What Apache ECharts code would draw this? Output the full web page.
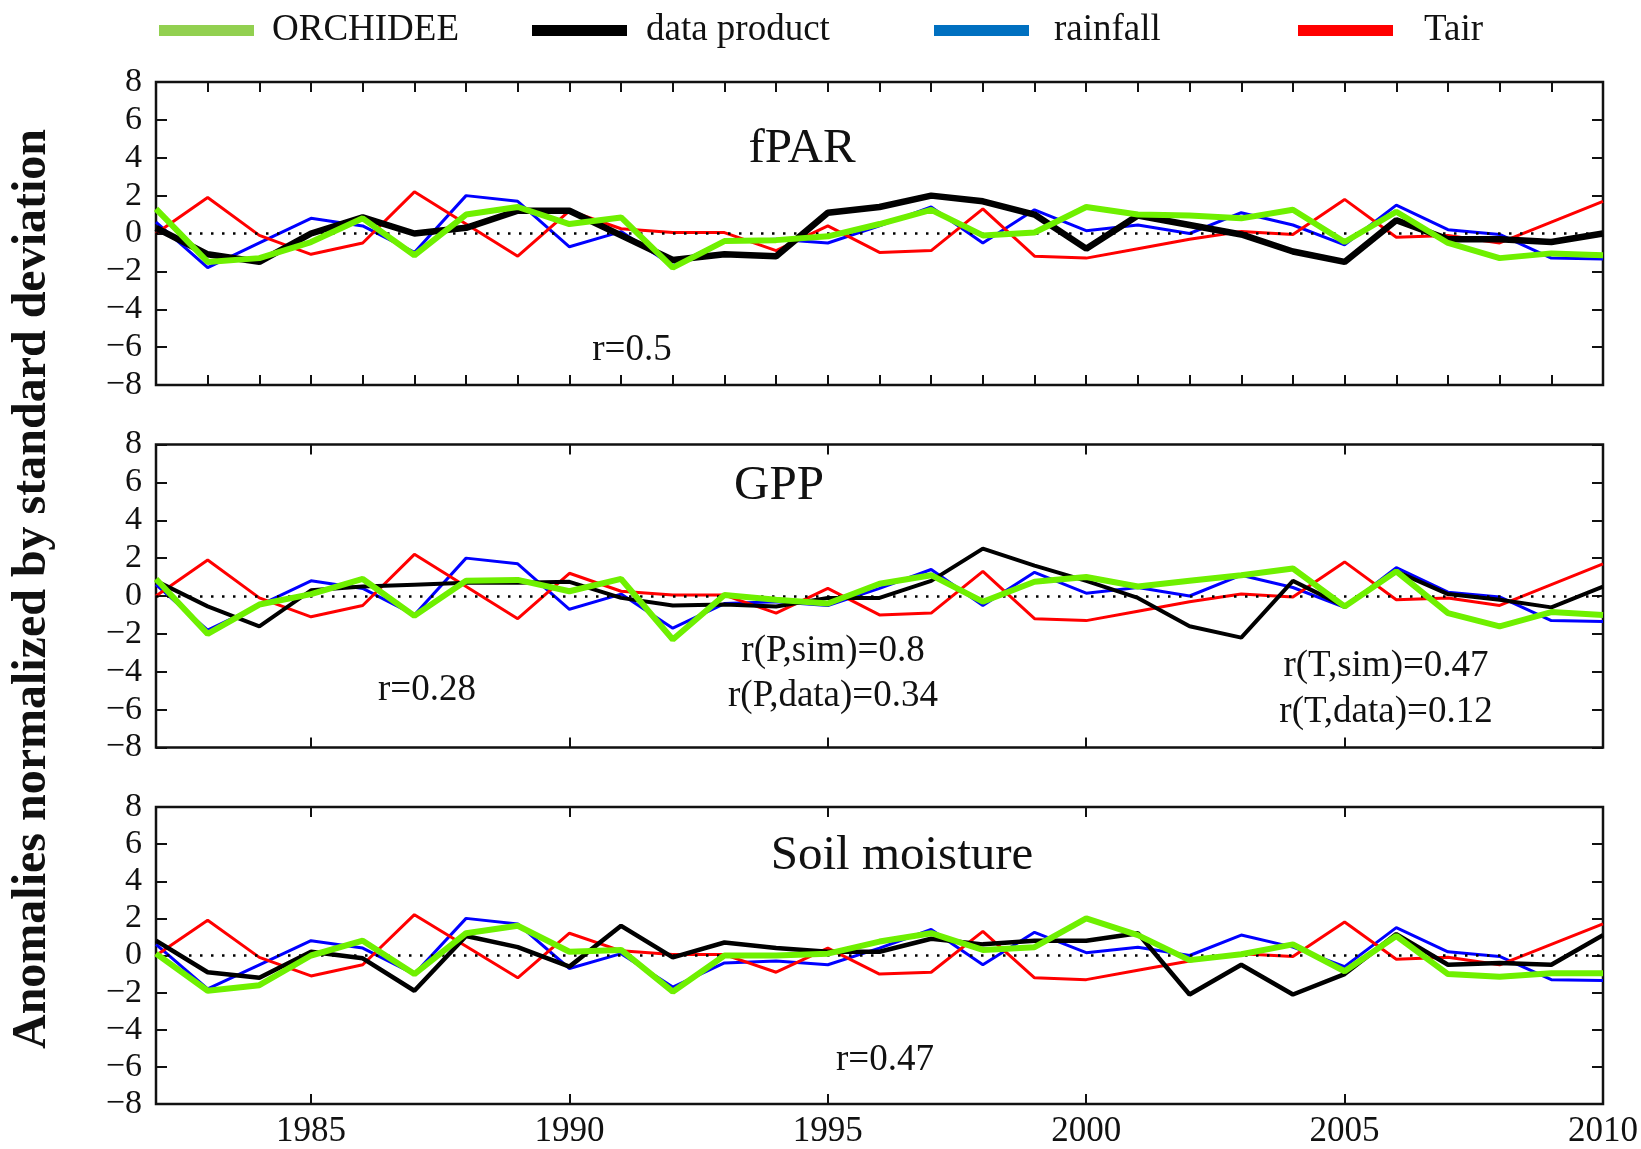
<!DOCTYPE html>
<html>
<head>
<meta charset="utf-8">
<title>Anomalies normalized by standard deviation</title>
<script src="https://cdn.jsdelivr.net/npm/echarts@6/dist/echarts.min.js"></script>
<style>
  html, body { margin: 0; padding: 0; background: #fff; }
  #chart { width: 1641px; height: 1149px; }
</style>
</head>
<body>
<div id="chart"></div>
<script>
// Years on the horizontal axis
const years = [1982, 1983, 1984, 1985, 1986, 1987, 1988, 1989, 1990, 1991,
               1992, 1993, 1994, 1995, 1996, 1997, 1998, 1999, 2000, 2001,
               2002, 2003, 2004, 2005, 2006, 2007, 2008, 2009, 2010];

// Climate drivers (same in every panel)
const rainfall = [0.6, -1.8, -0.5, 0.8, 0.4, -1.0, 2.0, 1.7, -0.7, 0.1,
                  -1.7, -0.4, -0.3, -0.5, 0.4, 1.4, -0.5, 1.25, 0.15, 0.45,
                  0.0, 1.1, 0.45, -0.6, 1.5, 0.2, -0.05, -1.3, -1.35];
const tair = [0.0, 1.9, -0.1, -1.1, -0.5, 2.2, 0.5, -1.2, 1.2, 0.25,
              0.05, 0.05, -0.9, 0.4, -1.0, -0.9, 1.3, -1.2, -1.3, -0.8,
              -0.3, 0.1, -0.05, 1.8, -0.2, -0.1, -0.5, 0.6, 1.7];

// fPAR
const fparData = [0.3, -1.1, -1.5, 0.0, 0.85, 0.0, 0.3, 1.2, 1.2, -0.1,
                  -1.4, -1.1, -1.2, 1.1, 1.4, 2.0, 1.7, 1.0, -0.8, 0.95,
                  0.45, -0.05, -0.95, -1.5, 0.7, -0.3, -0.3, -0.45, 0.0];
const fparSim = [1.3, -1.5, -1.3, -0.45, 0.8, -1.15, 1.0, 1.4, 0.5, 0.85,
                 -1.8, -0.4, -0.35, -0.15, 0.5, 1.25, -0.1, 0.05, 1.4, 1.0,
                 0.95, 0.8, 1.25, -0.45, 1.15, -0.5, -1.3, -1.05, -1.15];

// GPP
const gppData = [0.8, -0.55, -1.6, 0.3, 0.5, 0.6, 0.7, 0.7, 0.75, -0.1,
                 -0.5, -0.45, -0.55, -0.1, -0.1, 0.8, 2.5, 1.6, 0.8, -0.1,
                 -1.6, -2.2, 0.8, -0.55, 1.3, 0.1, -0.2, -0.6, 0.5];
const gppSim = [0.9, -2.0, -0.45, 0.1, 0.9, -1.05, 0.8, 0.85, 0.25, 0.9,
                -2.3, 0.05, -0.2, -0.4, 0.65, 1.1, -0.3, 0.75, 1.0, 0.5,
                0.8, 1.1, 1.45, -0.55, 1.3, -0.9, -1.6, -0.85, -1.0];

// Soil moisture
const smData = [0.8, -0.9, -1.2, 0.2, -0.15, -1.9, 1.05, 0.45, -0.6, 1.6,
                -0.1, 0.7, 0.4, 0.2, 0.2, 0.9, 0.6, 0.8, 0.8, 1.2,
                -2.1, -0.5, -2.1, -1.0, 1.15, -0.5, -0.4, -0.5, 1.1];
const smSim = [0.1, -1.9, -1.6, 0.0, 0.8, -1.0, 1.2, 1.6, 0.2, 0.3,
               -1.95, 0.0, 0.0, 0.1, 0.75, 1.2, 0.3, 0.45, 2.0, 1.1,
               -0.25, 0.07, 0.6, -0.85, 1.05, -1.0, -1.15, -0.95, -0.95];

// Axis ticks and labels
const yTicks = [-8, -6, -4, -2, 0, 2, 4, 6, 8];
const xLabelYears = [1985, 1990, 1995, 2000, 2005, 2010];
const xMinorYears = [1983, 1984, 1985, 1986, 1987, 1988, 1989, 1990, 1991, 1992,
                     1993, 1994, 1995, 1996, 1997, 1998, 1999, 2000, 2001, 2002,
                     2003, 2004, 2005, 2006, 2007, 2008, 2009];
const xMajorYears = [1985, 1990, 1995, 2000, 2005];

// Panel titles and correlation notes
const panelTitles = ['fPAR', 'GPP', 'Soil moisture'];
const seriesNames = ['ORCHIDEE', 'data product', 'rainfall', 'Tair'];
const notes = [
  ['r=0.5'],
  ['r=0.28', 'r(P,sim)=0.8', 'r(P,data)=0.34', 'r(T,sim)=0.47', 'r(T,data)=0.12'],
  ['r=0.47']
];

const FONT = 'Liberation Serif';
const lineColors = { ORCHIDEE: '#6FF000', 'data product': '#000000', rainfall: '#0000FF', Tair: '#FF0000' };
const legendColors = ['#92D050', '#000000', '#0070C0', '#FF0000'];

const pairs = vals => years.map((y, i) => [y, vals[i]]);
const minus = v => (v < 0 ? '\u2212' + Math.abs(v) : String(v));

const panels = [
  { sim: fparSim, data: fparData, dataWidth: 6.5, ticks: xMinorYears },
  { sim: gppSim, data: gppData, dataWidth: 4, ticks: xMajorYears },
  { sim: smSim, data: smData, dataWidth: 4.5, ticks: xMajorYears }
];

const gridTops = [82, 444.5, 807];
const grids = gridTops.map(t => ({
  left: 156, right: 38, top: t, height: 303,
  show: true, borderColor: '#111', borderWidth: 2.5, backgroundColor: 'transparent'
}));

const xAxes = [];
const yAxes = [];
panels.forEach((p, g) => {
  const tickStyle = { show: true, inside: true, length: 10, customValues: p.ticks,
                      lineStyle: { color: '#111', width: 2 } };
  xAxes.push({
    type: 'value', gridIndex: g, position: 'bottom', min: 1982, max: 2010,
    axisLine: { show: false, onZero: false }, splitLine: { show: false },
    axisTick: tickStyle,
    axisLabel: {
      show: g === 2, customValues: xLabelYears, margin: 10,
      color: '#111', fontFamily: FONT, fontSize: 35, formatter: v => String(v)
    }
  });
  xAxes.push({
    type: 'value', gridIndex: g, position: 'top', min: 1982, max: 2010,
    axisLine: { show: false, onZero: false }, splitLine: { show: false },
    axisTick: tickStyle, axisLabel: { show: false }
  });
  const yTickStyle = { show: true, inside: true, length: 11, customValues: yTicks,
                       lineStyle: { color: '#111', width: 2 } };
  yAxes.push({
    type: 'value', gridIndex: g, position: 'left', min: -8, max: 8, interval: 2,
    axisLine: { show: false, onZero: false }, splitLine: { show: false },
    axisTick: yTickStyle,
    axisLabel: { show: true, margin: 14, color: '#111', fontFamily: FONT, fontSize: 34,
                 formatter: minus, showMinLabel: true, showMaxLabel: true }
  });
  yAxes.push({
    type: 'value', gridIndex: g, position: 'right', min: -8, max: 8, interval: 2,
    axisLine: { show: false, onZero: false }, splitLine: { show: false },
    axisTick: yTickStyle, axisLabel: { show: false }
  });
});

const series = [];
panels.forEach((p, g) => {
  const base = { type: 'line', xAxisIndex: 2 * g, yAxisIndex: 2 * g, symbol: 'none',
                 showSymbol: false, silent: true, animation: false };
  series.push(Object.assign({}, base, {
    name: 'rainfall', data: pairs(rainfall), z: 2,
    lineStyle: { color: lineColors.rainfall, width: 3 },
    itemStyle: { color: lineColors.rainfall },
    markLine: {
      silent: true, symbol: ['none', 'none'], label: { show: false },
      lineStyle: { color: '#000', width: 2.5, type: [2.5, 8.5] },
      data: [{ yAxis: 0 }]
    }
  }));
  series.push(Object.assign({}, base, {
    name: 'Tair', data: pairs(tair), z: 3,
    lineStyle: { color: lineColors.Tair, width: 3 },
    itemStyle: { color: lineColors.Tair }
  }));
  series.push(Object.assign({}, base, {
    name: 'data product', data: pairs(p.data), z: 4,
    lineStyle: { color: lineColors['data product'], width: p.dataWidth },
    itemStyle: { color: lineColors['data product'] }
  }));
  series.push(Object.assign({}, base, {
    name: 'ORCHIDEE', data: pairs(p.sim), z: 5,
    lineStyle: { color: lineColors.ORCHIDEE, width: 6 },
    itemStyle: { color: lineColors.ORCHIDEE }
  }));
});

// One legend block per entry so each sits at its own spot in the header row
const legendLefts = [159, 532, 934, 1298];
const legendTextGaps = [13, 14, 20, 26];
const legends = seriesNames.map((n, i) => ({
  left: legendLefts[i], top: 12, padding: 0, orient: 'horizontal',
  icon: 'rect', itemWidth: 95, itemHeight: 11, selectedMode: false,
  data: [{ name: n, itemStyle: { color: legendColors[i], borderWidth: 0 },
           lineStyle: { color: legendColors[i], width: 0 } }],
  textStyle: { fontFamily: FONT, fontSize: 37, color: '#111', padding: [0, 0, 0, legendTextGaps[i]] }
}));

const txt = (x, y, s, size) => ({
  type: 'text', x: x, y: y, silent: true,
  style: { text: s, fill: '#111', fontFamily: FONT, fontSize: size,
           align: 'center', verticalAlign: 'middle' }
});

const graphics = [
  txt(802, 149, panelTitles[0], 49),
  txt(779, 486, panelTitles[1], 49),
  txt(902, 856, panelTitles[2], 49),
  txt(632, 350, notes[0][0], 37),
  txt(427, 690, notes[1][0], 37),
  txt(833, 651, notes[1][1], 37),
  txt(833, 696, notes[1][2], 37),
  txt(1386, 666, notes[1][3], 37),
  txt(1386, 712, notes[1][4], 37),
  txt(885, 1060, notes[2][0], 37),
  {
    type: 'text', x: 33, y: 589, rotation: Math.PI / 2, silent: true,
    style: { text: 'Anomalies normalized by standard deviation', fill: '#111',
             fontFamily: FONT, fontWeight: 'bold', fontSize: 48,
             align: 'center', verticalAlign: 'middle' }
  }
];

const chart = echarts.init(document.getElementById('chart'), null, { renderer: 'canvas' });
chart.setOption({
  animation: false,
  backgroundColor: '#fff',
  textStyle: { fontFamily: FONT },
  legend: legends,
  grid: grids,
  xAxis: xAxes,
  yAxis: yAxes,
  series: series,
  graphic: graphics
});
</script>
</body>
</html>
